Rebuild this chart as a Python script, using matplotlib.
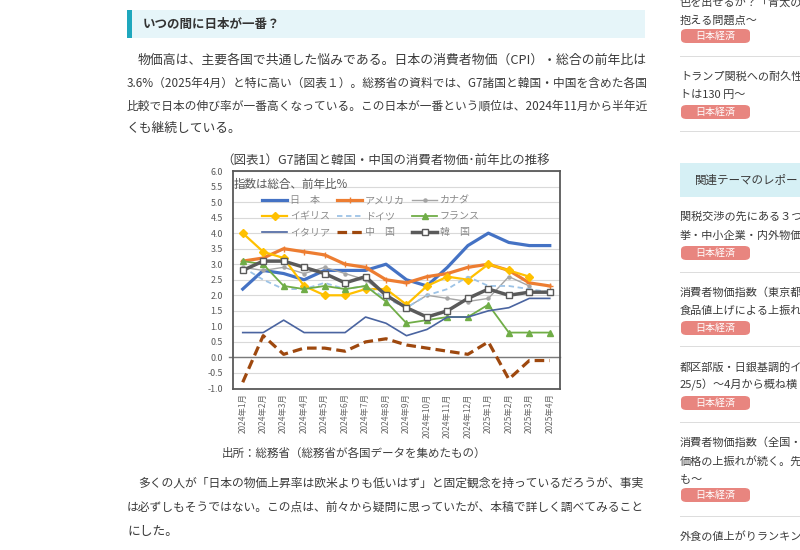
import numpy as np
import matplotlib
matplotlib.use('Agg')
import matplotlib.pyplot as plt
from matplotlib.patches import Rectangle, FancyBboxPatch

plt.rcParams['font.family'] = ['Noto Sans CJK JP', 'DejaVu Sans']

# ---------------- data ----------------
months = ['2024年1月', '2024年2月', '2024年3月', '2024年4月', '2024年5月', '2024年6月',
          '2024年7月', '2024年8月', '2024年9月', '2024年10月', '2024年11月', '2024年12月',
          '2025年1月', '2025年2月', '2025年3月', '2025年4月']
nan = np.nan
japan   = [2.2, 2.8, 2.7, 2.5, 2.8, 2.8, 2.8, 3.0, 2.5, 2.3, 2.9, 3.6, 4.0, 3.7, 3.6, 3.6]
usa     = [3.1, 3.2, 3.5, 3.4, 3.3, 3.0, 2.9, 2.5, 2.4, 2.6, 2.7, 2.9, 3.0, 2.8, 2.4, 2.3]
canada  = [2.9, 2.8, 2.9, 2.7, 2.9, 2.7, 2.5, 2.0, 1.6, 2.0, 1.9, 1.8, 1.9, 2.6, 2.3, nan]
uk      = [4.0, 3.4, 3.2, 2.3, 2.0, 2.0, 2.2, 2.2, 1.7, 2.3, 2.6, 2.5, 3.0, 2.8, 2.6, nan]
germany = [2.9, 2.5, 2.2, 2.2, 2.4, 2.2, 2.3, 1.9, 1.6, 2.0, 2.2, 2.6, 2.3, 2.3, 2.2, 2.1]
france  = [3.1, 3.0, 2.3, 2.2, 2.3, 2.2, 2.3, 1.8, 1.1, 1.2, 1.3, 1.3, 1.7, 0.8, 0.8, 0.8]
italy   = [0.8, 0.8, 1.2, 0.8, 0.8, 0.8, 1.3, 1.1, 0.7, 0.9, 1.3, 1.3, 1.5, 1.6, 1.9, 1.9]
china   = [-0.8, 0.7, 0.1, 0.3, 0.3, 0.2, 0.5, 0.6, 0.4, 0.3, 0.2, 0.1, 0.5, -0.7, -0.1, -0.1]
korea   = [2.8, 3.1, 3.1, 2.9, 2.7, 2.4, 2.6, 2.0, 1.6, 1.3, 1.5, 1.9, 2.2, 2.0, 2.1, 2.1]

series_names = ['日　本', 'アメリカ', 'カナダ', 'イギリス', 'ドイツ', 'フランス', 'イタリア', '中　国', '韓　国']
y_ticks = [-1.0, -0.5, 0.0, 0.5, 1.0, 1.5, 2.0, 2.5, 3.0, 3.5, 4.0, 4.5, 5.0, 5.5, 6.0]

chart_title = '（図表1）G7諸国と韓国・中国の消費者物価･前年比の推移'
unit_note = '指数は総合、前年比%'
source_note = '出所：総務省（総務省が各国データを集めたもの）'

heading = 'いつの間に日本が一番？'
para1 = ['物価高は、主要各国で共通した悩みである。日本の消費者物価（CPI）・総合の前年比は',
         '3.6%（2025年4月）と特に高い（図表１）。総務省の資料では、G7諸国と韓国・中国を含めた各国',
         '比較で日本の伸び率が一番高くなっている。この日本が一番という順位は、2024年11月から半年近',
         'くも継続している。']
para2 = ['多くの人が「日本の物価上昇率は欧米よりも低いはず」と固定観念を持っているだろうが、事実',
         'は必ずしもそうではない。この点は、前々から疑問に思っていたが、本稿で詳しく調べてみること',
         'にした。']
side_items = [
    (['色を出せるか？「青太の', '抱える問題点～'], [2, 20], 36, 57),
    (['トランプ関税への耐久性', 'トは130 円～'], [76, 95], 112, 132),
    (['関税交渉の先にある３つ', '挙・中小企業・内外物価'], [217, 236], 253, 273),
    (['消費者物価指数（東京都', '食品値上げによる上振れ'], [293, 311], 328, 347),
    (['都区部版・日銀基調的イ', '25/5）～4月から概ね横'], [367, 385], 403, 423),
    (['消費者物価指数（全国・', '価格の上振れが続く。先', 'も～'], [443, 461, 479], 495, 517),
    (['外食の値上がりランキン'], [537], None, None),
]
tag_text = '日本経済'
related_title = '関連テーマのレポート'

# ---------------- figure ----------------
W, H = 800, 550
fig = plt.figure(figsize=(8, 5.5), dpi=100)
fig.patch.set_facecolor('white')


def fx(x):
    return x / W


def fy(y):
    return 1 - y / H


renderer = fig.canvas.get_renderer()
TXT = '#3a3a3a'


def line_text(x0, y, s, size, x1=None, **kw):
    t = fig.text(fx(x0), fy(y), s, fontsize=size, va='center', ha='left', color=TXT, **kw)
    if x1 is not None:
        w = t.get_window_extent(renderer).width
        scale = (x1 - x0) / w
        scale = max(0.9, min(1.1, scale))
        t.set_fontsize(size * scale)
    return t


# heading band
fig.add_artist(Rectangle((fx(127), fy(38)), (645 - 127) / W, 28 / H, transform=fig.transFigure,
                         facecolor='#E6F5F9', edgecolor='none'))
fig.add_artist(Rectangle((fx(127), fy(38)), 5 / W, 28 / H, transform=fig.transFigure,
                         facecolor='#1EA7BD', edgecolor='none'))
fig.text(fx(143), fy(24.5), heading, fontsize=9, fontweight='bold', color='#333333', va='center', ha='left')

# paragraph 1
p1_y = [60, 83, 106, 128]
for i, (s, y) in enumerate(zip(para1, p1_y)):
    x0 = 138 if i == 0 else 127
    x1 = 645 if i < len(para1) - 1 else None
    line_text(x0, y, s, 9.2, x1)

# paragraph 2
p2_y = [483, 507, 531]
for i, (s, y) in enumerate(zip(para2, p2_y)):
    x0 = 138 if i == 0 else 127
    x1 = 645 if i < len(para2) - 1 else None
    line_text(x0, y, s, 9.2, x1)

# source
fig.text(fx(222), fy(453), source_note, fontsize=8.3, color='#404040', va='center', ha='left')

# sidebar
for lines, ys, tag_y, sep_y in side_items:
    for s, y in zip(lines, ys):
        fig.text(fx(680), fy(y), s, fontsize=8, color=TXT, va='center', ha='left')
    if tag_y is not None:
        fig.add_artist(FancyBboxPatch((fx(681), fy(tag_y + 7)), 69 / W, 14 / H,
                                      boxstyle='round,pad=0,rounding_size=0.007',
                                      transform=fig.transFigure, facecolor='#E8857F', edgecolor='none'))
        fig.text(fx(715.5), fy(tag_y), tag_text, fontsize=7.2, color='white', va='center', ha='center')
    if sep_y is not None:
        fig.add_artist(Rectangle((fx(680), fy(sep_y)), 120 / W, 1 / H, transform=fig.transFigure,
                                 facecolor='#dddddd', edgecolor='none'))
# related-theme box
fig.add_artist(Rectangle((fx(680), fy(197)), 120 / W, 34 / H, transform=fig.transFigure,
                         facecolor='#D6F0F5', edgecolor='none'))
fig.text(fx(695), fy(180), related_title, fontsize=8.3, color='#3a3a3a', va='center', ha='left')

# ---------------- chart ----------------
ax = fig.add_axes([fx(232.5), fy(388.5), (560 - 232.5) / W, (388.5 - 171) / H])
x = np.arange(len(months))

styles = [
    dict(color='#4472C4', lw=2.3),
    dict(color='#ED7D31', lw=2.3, marker='+', ms=4, mew=1.0),
    dict(color='#A5A5A5', lw=1.0, marker='o', ms=2.2),
    dict(color='#FFC000', lw=1.6, marker='D', ms=4.2),
    dict(color='#9DC3E6', lw=1.3, ls=(0, (3, 2))),
    dict(color='#70AD47', lw=1.3, marker='^', ms=4.5),
    dict(color='#4A64A0', lw=1.2),
    dict(color='#9E480E', lw=2.3, ls=(0, (3, 1.6))),
    dict(color='#5a5a5a', lw=2.5, marker='s', ms=4.6, mfc='white', mec='#5a5a5a', mew=1.0),
]
data = [japan, usa, canada, uk, germany, france, italy, china, korea]
handles = []
for name, vals, st in zip(series_names, data, styles):
    h, = ax.plot(x, vals, label=name, zorder=3, **st)
    handles.append(h)

ax.set_xlim(-0.5, len(months) - 0.5)
ax.set_ylim(-1.0, 6.0)
ax.set_yticks(y_ticks)
ax.set_yticklabels([f'{v:.1f}' for v in y_ticks], fontsize=6.4, color='#595959')
ax.set_xticks(x)
ax.set_xticklabels(months, rotation=90, fontsize=6.0, color='#6a6a6a', va='top', ha='center')
ax.tick_params(axis='both', length=0)
ax.tick_params(axis='y', pad=7)
ax.tick_params(axis='x', pad=3.5)
ax.grid(axis='y', color='#D9D9D9', lw=0.8, zorder=0)
ax.set_axisbelow(True)
ax.axhline(0, xmin=-0.012, xmax=1, color='#7a7a7a', lw=1.0, zorder=2, clip_on=False)
for sp in ax.spines.values():
    sp.set_color('#595959')
    sp.set_linewidth(1.3)

fig.text(fx(234), fy(184), unit_note, fontsize=8.3, color='#595959', va='center', ha='left')
fig.text(fx(386), fy(161), chart_title, fontsize=9, color='#404040', va='center', ha='center')

order = [0, 3, 6, 1, 4, 7, 2, 5, 8]
leg = ax.legend([handles[i] for i in order], [series_names[i] for i in order], ncol=3,
                loc='upper left', bbox_to_anchor=(fx(262), fy(195.5)), bbox_transform=fig.transFigure,
                frameon=False, fontsize=7.2, handlelength=2.5, handletextpad=0.3,
                columnspacing=0.7, labelspacing=0.58, borderpad=0, borderaxespad=0)
for t in leg.get_texts():
    t.set_color('#8a8a8a')

fig.savefig('out.png', dpi=100)
